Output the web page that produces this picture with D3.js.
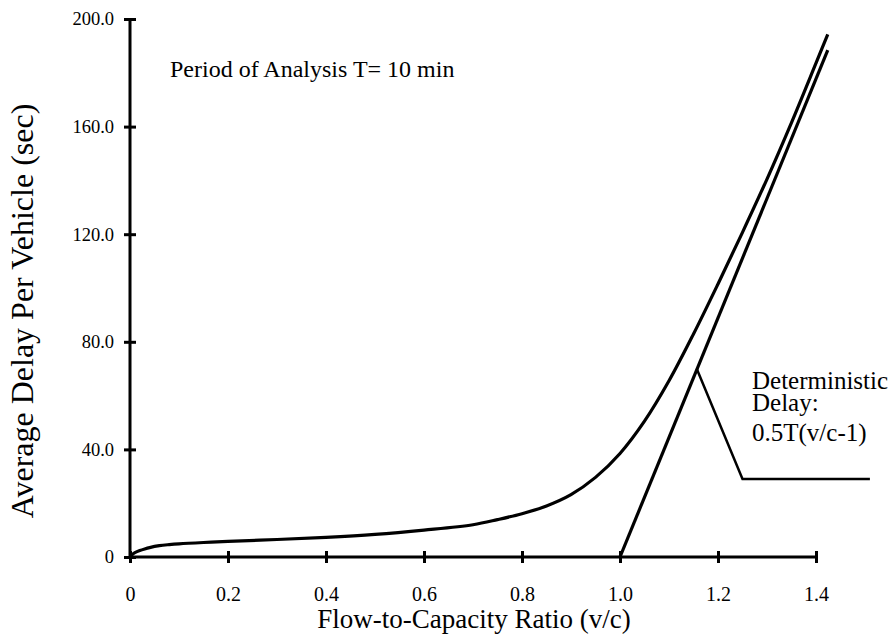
<!DOCTYPE html>
<html>
<head>
<meta charset="utf-8">
<script src="https://cdn.jsdelivr.net/npm/d3@7"></script>
<style>
  body { margin: 0; background: #fff; }
  svg text { font-family: "Liberation Serif", LiberationSerif, Tinos, Times, "DejaVu Serif", serif; fill: #000; }
</style>
</head>
<body>
<script>
const w = 896;
const h = 639;

// flow-to-capacity ratio and total average delay (sec)
const vcRatio = [0, 0.005, 0.01, 0.02, 0.03, 0.04, 0.06, 0.08, 0.1, 0.15, 0.2, 0.3, 0.4, 0.5,
                 0.6, 0.7, 0.75, 0.8, 0.85, 0.9, 0.95, 1.0, 1.05, 1.1, 1.15, 1.2, 1.25, 1.3,
                 1.35, 1.4, 1.424];
const totalDelay = [0, 1.0, 1.6, 2.4, 3.0, 3.5, 4.2, 4.6, 4.9, 5.4, 5.8, 6.5, 7.3, 8.4,
                    10.0, 12.0, 13.9, 16.1, 19.0, 23.2, 29.6, 38.5, 50.5, 65.5, 82.9, 101.5, 120.7,
                    140.5, 161.5, 183.6, 194.3];

// deterministic delay line
const detRatio = [1.0, 1.424];
const detDelay = [0, 188.4];

const xTicks = [0, 0.2, 0.4, 0.6, 0.8, 1.0, 1.2, 1.4];
const xTickLabels = ['0', '0.2', '0.4', '0.6', '0.8', '1.0', '1.2', '1.4'];
const yTicks = [0, 40, 80, 120, 160, 200];
const yTickLabels = ['0', '40.0', '80.0', '120.0', '160.0', '200.0'];

let svg = d3.select('body')
            .append('svg')
            .attr('width', w)
            .attr('height', h);

const x = d3.scaleLinear().domain([0, 1.4]).range([130, 816]);
const y = d3.scaleLinear().domain([0, 200]).range([557, 19]);

// axes, ticks cross the axis line
const xAxis = svg.append('g')
  .attr('transform', `translate(0,${y(0)})`)
  .call(d3.axisBottom(x).tickValues(xTicks).tickSize(6).tickPadding(24)
        .tickFormat((d, i) => xTickLabels[i]));
xAxis.selectAll('.tick line').attr('y1', -6);
xAxis.selectAll('.tick text').attr('font-size', 20);
xAxis.select('.domain').attr('d', `M${x(0)},0H${x(1.4)}`);

const yAxis = svg.append('g')
  .attr('transform', `translate(${x(0)},0)`)
  .call(d3.axisLeft(y).tickValues(yTicks).tickSize(6).tickPadding(10)
        .tickFormat((d, i) => yTickLabels[i]));
yAxis.selectAll('.tick line').attr('x1', 6);
yAxis.selectAll('.tick text').attr('font-size', 18.5);
yAxis.select('.domain').attr('d', `M0,${y(0)}V${y(200)}`);

svg.selectAll('.domain, .tick line')
  .attr('stroke', '#000')
  .attr('stroke-width', 3);

// curves
const line = d3.line()
  .x(d => x(d[0]))
  .y(d => y(d[1]))
  .curve(d3.curveCatmullRom.alpha(0.5));

svg.append('path')
  .datum(vcRatio.map((v, i) => [v, totalDelay[i]]))
  .attr('d', line)
  .attr('fill', 'none')
  .attr('stroke', '#000')
  .attr('stroke-width', 3.2);

svg.append('path')
  .datum(detRatio.map((v, i) => [v, detDelay[i]]))
  .attr('d', d3.line().x(d => x(d[0])).y(d => y(d[1])))
  .attr('fill', 'none')
  .attr('stroke', '#000')
  .attr('stroke-width', 3.2);

// leader line for the deterministic delay label
const leadX = 1.157;
const leadY = (leadX - detRatio[0]) / (detRatio[1] - detRatio[0]) * detDelay[1];
svg.append('path')
  .attr('d', `M${x(leadX)},${y(leadY)}L${x(1.25)},${y(29)}H${x(1.51)}`)
  .attr('fill', 'none')
  .attr('stroke', '#000')
  .attr('stroke-width', 2.5);

// texts
svg.append('text')
  .attr('x', 170).attr('y', 77)
  .attr('font-size', 24)
  .text('Period of Analysis T= 10 min');

const note = svg.append('text').attr('font-size', 25);
note.append('tspan').attr('x', 752).attr('y', 389).text('Deterministic');
note.append('tspan').attr('x', 752).attr('y', 411).text('Delay:');
note.append('tspan').attr('x', 752).attr('y', 441).text('0.5T(v/c-1)');

svg.append('text')
  .attr('x', (x(0) + x(1.4)) / 2 + 1).attr('y', 628)
  .attr('text-anchor', 'middle')
  .attr('font-size', 27)
  .text('Flow-to-Capacity Ratio (v/c)');

svg.append('text')
  .attr('transform', `translate(33,${(y(0) + y(200)) / 2 + 23}) rotate(-90)`)
  .attr('text-anchor', 'middle')
  .attr('font-size', 32)
  .text('Average Delay Per Vehicle (sec)');
</script>
</body>
</html>
